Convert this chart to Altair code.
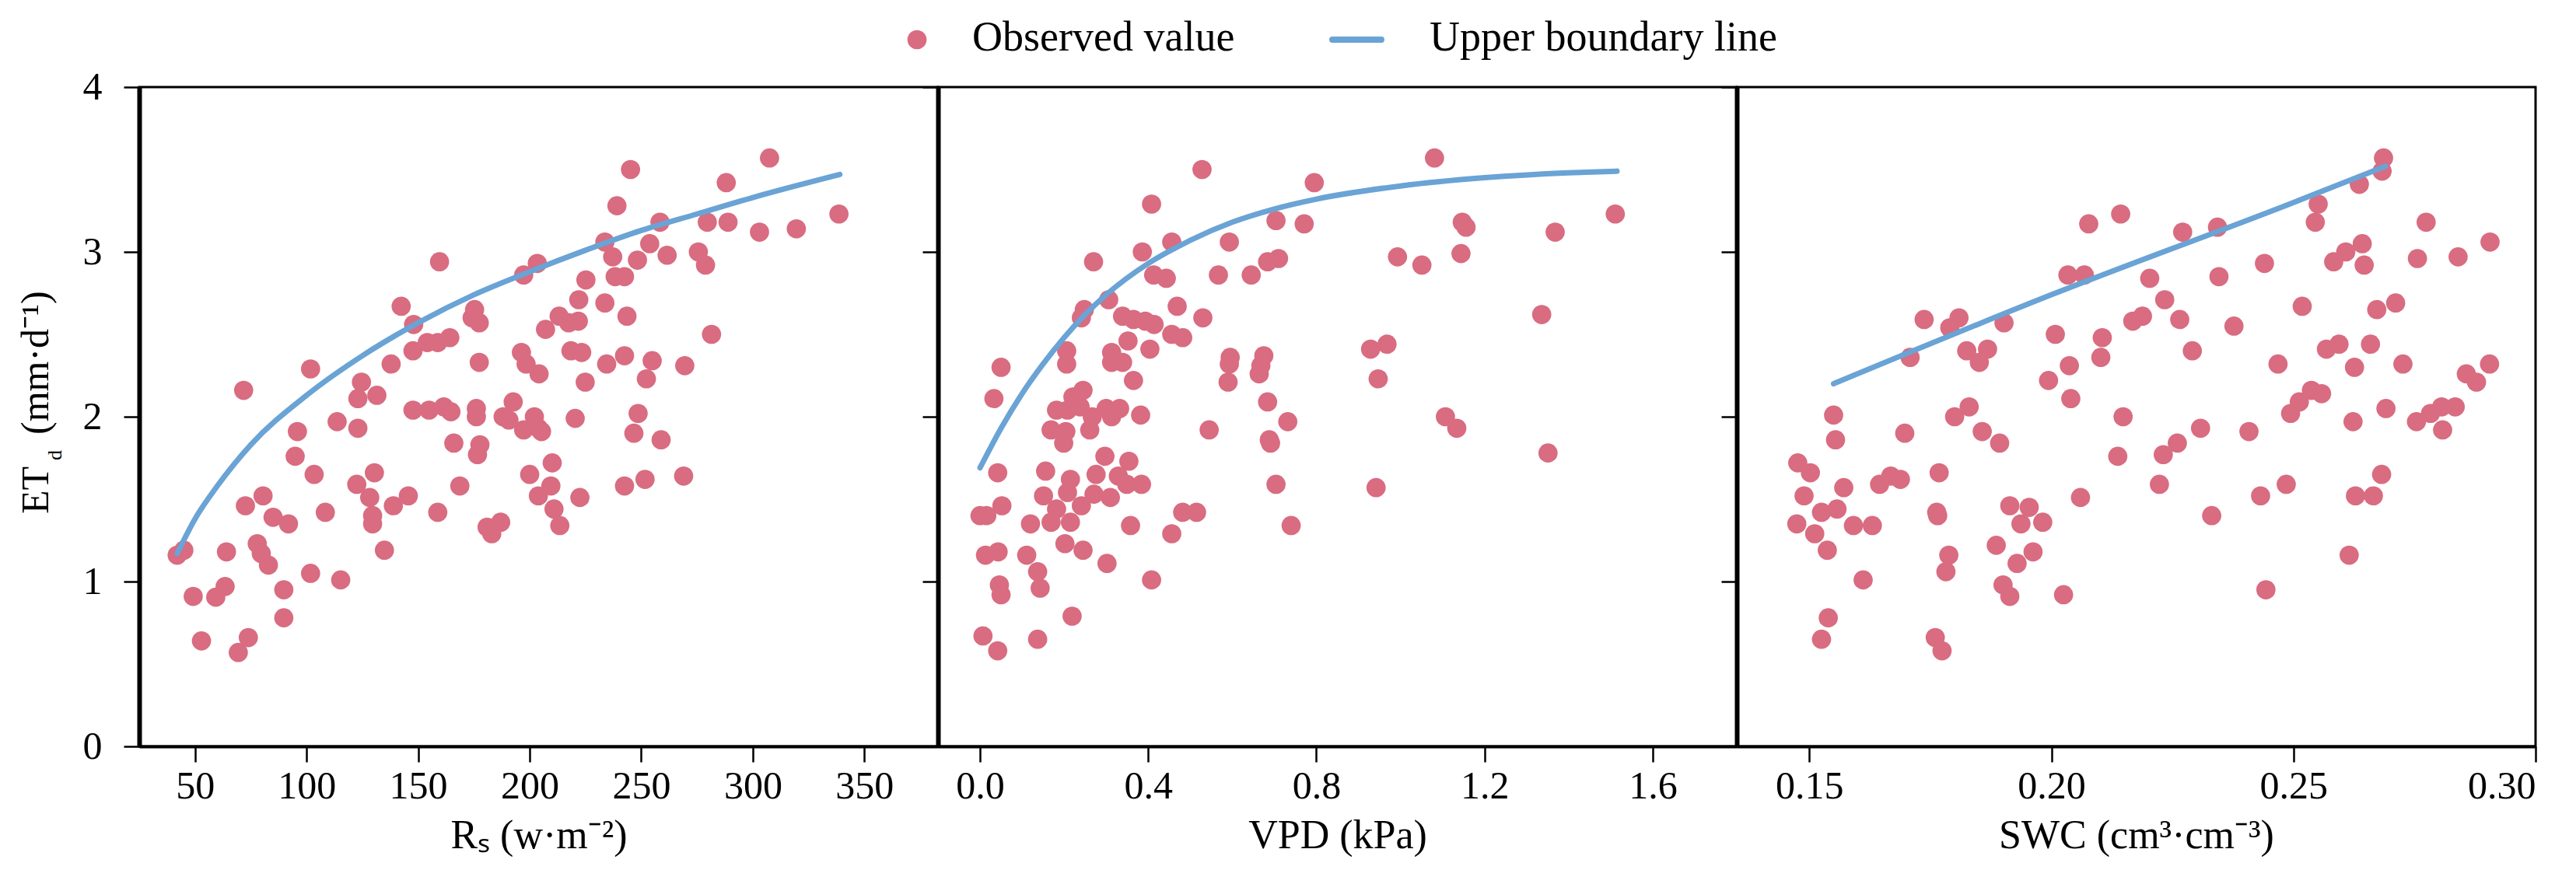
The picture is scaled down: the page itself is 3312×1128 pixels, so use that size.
import altair as alt
import pandas as pd

# ---------------- data ----------------
rs_x = [42, 45, 49.2, 52.9, 59.3, 63.5, 64.1, 69.4, 71.8, 73.9, 72.6, 77.9, 80.5, 79.7, 82.9, 85.0,
        89.8, 89.8, 91.9, 95.9, 94.9, 101.8, 101.8, 103.4, 108.4, 113.7, 115.3, 123.0, 123.0, 124.6,
        122.5, 128.3, 129.6, 129.6, 130.4, 131.5, 134.9, 137.9, 138.9, 142.4, 145.6, 148.0, 147.7,
        147.7, 154.9, 154.1, 158.8, 158.8, 159.6, 161.5, 164.7, 164.2, 166.0, 168.7, 174.2, 175.3,
        177.4, 176.1, 176.1, 177.4, 176.6, 177.7, 180.9, 183.0, 187.0, 188.1, 190.7, 192.6, 196.3,
        197.3, 198.4, 197.3, 200.0, 202.1, 203.4, 203.9, 204.2, 205.3, 203.9, 207.1, 209.5, 210.1,
        210.9, 213.5, 213.2, 217.5, 218.5, 220.4, 221.8, 222.0, 223.3, 225.2, 224.9, 222.5, 233.7,
        233.7, 234.5, 237.2, 238.3, 239.1, 242.5, 242.5, 243.6, 242.5, 245.2, 246.7, 248.6, 248.3,
        252.3, 251.7, 253.8, 254.9, 258.4, 258.9, 261.6, 269.5, 269.0, 275.6, 278.8, 279.6, 281.5,
        288.1, 288.9, 303.0, 307.5, 319.5, 338.6]
rs_y = [1.16, 1.19, 0.91, 0.64, 0.905, 0.97, 1.18, 0.57, 2.16, 0.66, 1.46, 1.23, 1.52, 1.17, 1.10, 1.39,
        0.95, 0.78, 1.35, 1.91, 1.76, 2.29, 1.05, 1.65, 1.42, 1.97, 1.01, 1.93, 2.11, 2.21,
        1.59, 1.51, 1.40, 1.35, 1.66, 2.13, 1.19, 2.32, 1.46, 2.67, 1.52, 2.56, 2.40,
        2.04, 2.04, 2.45, 2.45, 1.42, 2.94, 2.06, 2.03, 2.48, 1.84, 1.58, 2.60, 2.65,
        2.57, 2.05, 2.00, 2.33, 1.77, 1.83, 1.33, 1.29, 1.36, 2.00, 1.98, 2.09, 2.39,
        2.86, 2.32, 1.92, 1.65, 2.00, 2.93, 1.93, 2.26, 1.91, 1.52, 2.53, 1.58, 1.72,
        1.44, 1.34, 2.61, 2.57, 2.40, 1.99, 2.58, 2.71, 2.39, 2.83, 2.21, 1.51, 2.69,
        3.06, 2.32, 2.97, 2.85, 3.28, 2.85, 2.37, 2.61, 1.58, 3.50, 1.90, 2.02, 2.95,
        2.23, 1.62, 3.05, 2.34, 3.18, 1.86, 2.98, 2.31, 1.64, 3.00, 2.92, 3.18, 2.50,
        3.42, 3.18, 3.12, 3.57, 3.14, 3.23]
rs_line_x = [42, 50, 60, 75, 100, 125, 150, 175, 200, 225, 250, 275, 300, 339]
rs_line_y = [1.17, 1.38, 1.58, 1.83, 2.13, 2.37, 2.57, 2.74, 2.88, 3.01, 3.13, 3.23, 3.33, 3.47]

vpd_x = [0.528, 0.408, 0.795, 1.081, 0.704, 0.771, 1.147, 1.156, 1.368, 1.511, 0.456, 0.593, 0.386,
         0.270, 0.710, 0.684, 0.993, 1.051, 1.144, 0.413, 0.443, 0.567, 0.645, 0.306, 0.469, 0.248,
         0.241, 0.339, 0.365, 0.393, 0.414, 0.530, 1.336, 0.456, 0.482, 0.352, 0.206, 0.404, 0.313,
         0.929, 0.968, 0.206, 0.313, 0.339, 0.595, 0.593, 0.675, 0.668, 0.664, 0.050, 0.365, 0.590,
         0.947, 0.033, 0.245, 0.221, 0.182, 0.208, 0.238, 0.300, 0.332, 0.382, 0.267, 0.313, 0.684,
         0.732, 1.107, 1.134, 0.169, 0.204, 0.199, 0.261, 0.545, 0.688, 0.691, 1.351, 0.042, 0.156,
         0.297, 0.354, 0.276, 0.329, 0.349, 0.384, 0.215, 0.704, 0.942, 0.151, 0.208, 0.271, 0.310,
         0.182, 0.241, 0.052, 0.000, 0.016, 0.120, 0.169, 0.215, 0.482, 0.515, 0.358, 0.740, 0.202,
         0.013, 0.043, 0.111, 0.245, 0.302, 0.456, 0.137, 0.046, 0.050, 0.143, 0.408, 0.219, 0.007,
         0.137, 0.042]
vpd_y = [3.50, 3.29, 3.42, 3.57, 3.19, 3.17, 3.18, 3.15, 3.12, 3.23, 3.06, 3.06, 3.00,
         2.94, 2.96, 2.94, 2.97, 2.92, 2.99, 2.86, 2.84, 2.86, 2.86, 2.71, 2.67, 2.65,
         2.60, 2.61, 2.59, 2.58, 2.56, 2.60, 2.62, 2.50, 2.48, 2.46, 2.40, 2.41, 2.39,
         2.41, 2.44, 2.32, 2.33, 2.33, 2.36, 2.32, 2.37, 2.31, 2.26, 2.30, 2.22, 2.21,
         2.23, 2.11, 2.16, 2.12, 2.04, 2.04, 2.06, 2.05, 2.05, 2.01, 2.00, 2.00, 2.09,
         1.97, 2.00, 1.93, 1.92, 1.91, 1.84, 1.92, 1.92, 1.86, 1.84, 1.78, 1.66, 1.67,
         1.76, 1.73, 1.65, 1.64, 1.59, 1.59, 1.62, 1.59, 1.57, 1.52, 1.54, 1.53, 1.51,
         1.44, 1.46, 1.46, 1.40, 1.40, 1.35, 1.36, 1.36, 1.42, 1.42, 1.34, 1.34, 1.23,
         1.16, 1.18, 1.16, 1.19, 1.11, 1.29, 1.06, 0.98, 0.92, 0.96, 1.01, 0.79, 0.67,
         0.65, 0.58]
vpd_line_x = [0.0, 0.05, 0.1, 0.15, 0.2, 0.25, 0.3, 0.4, 0.5, 0.6, 0.7, 0.8, 1.0, 1.2, 1.4, 1.515]
vpd_line_y = [1.69, 1.93, 2.14, 2.32, 2.48, 2.62, 2.74, 2.93, 3.07, 3.18, 3.26, 3.32, 3.40, 3.45, 3.48, 3.49]

swc_x = [0.2686, 0.2683, 0.2636, 0.2551, 0.2545, 0.2143, 0.2077, 0.2271, 0.2343, 0.2774, 0.2906,
         0.2642, 0.2608, 0.2583, 0.2646, 0.2756, 0.2840, 0.2440, 0.2034, 0.2068, 0.2346, 0.2203,
         0.2234, 0.2518, 0.2711, 0.2672, 0.1737, 0.1809, 0.1790, 0.1902, 0.2168, 0.2188, 0.2265,
         0.2377, 0.2008, 0.2105, 0.2568, 0.2594, 0.2659, 0.1825, 0.1868, 0.1851, 0.2291, 0.2102,
         0.1708, 0.2037, 0.2468, 0.2626, 0.2726, 0.2905, 0.2857, 0.2878, 0.1994, 0.2040, 0.2537,
         0.2558, 0.2512, 0.2494, 0.2691, 0.2783, 0.2806, 0.2834, 0.2754, 0.2623, 0.2808, 0.1550,
         0.1554, 0.1800, 0.1830, 0.2148, 0.1697, 0.1857, 0.1893, 0.2308, 0.2408, 0.2260, 0.2231,
         0.2137, 0.1476, 0.1502, 0.1768, 0.1571, 0.1645, 0.1668, 0.1688, 0.2223, 0.2485, 0.2682,
         0.1489, 0.1525, 0.1557, 0.1763, 0.1765, 0.1914, 0.1954, 0.1937, 0.1982, 0.2060, 0.2432,
         0.2628, 0.2665, 0.2331, 0.1474, 0.1511, 0.1591, 0.1630, 0.1537, 0.1788, 0.1782, 0.1886,
         0.1929, 0.1962, 0.2615, 0.1611, 0.1900, 0.1914, 0.2025, 0.2443, 0.1539, 0.1525, 0.1760,
         0.1774]
swc_y = [3.57, 3.49, 3.41, 3.29, 3.18, 3.23, 3.17, 3.12, 3.15, 3.18, 3.06,
         3.05, 3.00, 2.94, 2.92, 2.96, 2.97, 2.93, 2.86, 2.86, 2.85, 2.84,
         2.71, 2.67, 2.69, 2.65, 2.59, 2.60, 2.54, 2.57, 2.58, 2.61, 2.59,
         2.55, 2.50, 2.48, 2.41, 2.44, 2.44, 2.40, 2.41, 2.33, 2.40, 2.36,
         2.36, 2.31, 2.32, 2.30, 2.32, 2.32, 2.26, 2.21, 2.22, 2.11, 2.16,
         2.14, 2.09, 2.02, 2.05, 2.02, 2.06, 2.06, 1.97, 1.97, 1.92, 2.01,
         1.86, 2.00, 2.06, 2.00, 1.90, 1.91, 1.84, 1.93, 1.91, 1.84, 1.77,
         1.76, 1.72, 1.66, 1.66, 1.57, 1.59, 1.64, 1.62, 1.59, 1.59, 1.65,
         1.52, 1.42, 1.44, 1.42, 1.40, 1.46, 1.45, 1.35, 1.36, 1.51, 1.52,
         1.52, 1.52, 1.40, 1.35, 1.29, 1.34, 1.34, 1.19, 1.16, 1.06, 1.22,
         1.11, 1.18, 1.16, 1.01, 0.98, 0.91, 0.92, 0.95, 0.78, 0.65, 0.66,
         0.58]
swc_line_x = [0.155, 0.20, 0.25, 0.269]
swc_line_y = [2.20, 2.74, 3.30, 3.52]

y_ticks = [0, 1, 2, 3, 4]
rs_ticks = [50, 100, 150, 200, 250, 300, 350]
vpd_ticks = [0.0, 0.4, 0.8, 1.2, 1.6]
swc_ticks = [0.15, 0.20, 0.25, 0.30]
legend_labels = ["Observed value", "Upper boundary line"]

# ---------------- styling ----------------
POINT = "#D96C80"
LINE = "#6AA3D5"
FONT = "Liberation Serif"
W, H = 1027, 848


def panel(px, py, lx, ly, domain, ticks, fmt, title, show_y, extra=()):
    pts = pd.DataFrame({"x": px, "y": py})
    ln = pd.DataFrame({"x": lx, "y": ly})
    xenc = alt.X("x:Q", scale=alt.Scale(domain=domain, nice=False, zero=False),
                 axis=alt.Axis(values=ticks, format=fmt, title=title))
    yenc = alt.Y("y:Q", scale=alt.Scale(domain=[0, 4], nice=False),
                 axis=alt.Axis(values=y_ticks, labels=show_y, title=None, format="d"))
    points = alt.Chart(pts).mark_circle(size=610, color=POINT, opacity=1).encode(x=xenc, y=yenc)
    line = alt.Chart(ln).mark_line(color=LINE, strokeWidth=7, strokeCap="round",
                                   interpolate="monotone").encode(x="x:Q", y="y:Q")
    return alt.layer(points, line, *extra).properties(width=W, height=H)


one = pd.DataFrame({"k": [0]})
txt = dict(font=FONT, color="black")
y_main = alt.Chart(one).mark_text(angle=270, align="right", baseline="alphabetic", fontSize=50, **txt).encode(
    x=alt.value(-117), y=alt.value(488), text=alt.value("ET"))
y_sub = alt.Chart(one).mark_text(angle=270, align="left", baseline="alphabetic", fontSize=26, **txt).encode(
    x=alt.value(-100), y=alt.value(480), text=alt.value("d"))
y_unit = alt.Chart(one).mark_text(angle=270, align="left", baseline="alphabetic", fontSize=50, **txt).encode(
    x=alt.value(-117), y=alt.value(447), text=alt.value("(mm·d⁻¹)"))

leg_pt = alt.Chart(one).mark_circle(size=610, color=POINT, opacity=1).encode(
    x=alt.value(1000), y=alt.value(-61))
leg_t1 = alt.Chart(one).mark_text(align="left", baseline="alphabetic", fontSize=54, **txt).encode(
    x=alt.value(1071), y=alt.value(-47), text=alt.value(legend_labels[0]))
leg_ln = alt.Chart(one).mark_rule(color=LINE, strokeWidth=8, strokeCap="round").encode(
    x=alt.value(1534), x2=alt.value(1597), y=alt.value(-61))
leg_t2 = alt.Chart(one).mark_text(align="left", baseline="alphabetic", fontSize=54, **txt).encode(
    x=alt.value(1659), y=alt.value(-47), text=alt.value(legend_labels[1]))

p1 = panel(rs_x, rs_y, rs_line_x, rs_line_y, [25, 383], rs_ticks, "d", "Rₛ (w·m⁻²)", True,
           extra=(y_main, y_sub, y_unit, leg_pt, leg_t1, leg_ln, leg_t2))
p2 = panel(vpd_x, vpd_y, vpd_line_x, vpd_line_y, [-0.1, 1.8], vpd_ticks, ".1f", "VPD (kPa)", False)
p3 = panel(swc_x, swc_y, swc_line_x, swc_line_y, [0.135, 0.30], swc_ticks, ".2f", "SWC (cm³·cm⁻³)", False)

chart = (
    alt.hconcat(p1, p2, p3, spacing=0, bounds="flush")
    .properties(padding={"left": 12, "top": 12, "right": 5, "bottom": 5}, background="white")
    .configure(font=FONT)
    .configure_view(stroke="black", strokeWidth=3)
    .configure_axis(
        labelFont=FONT, labelFontSize=50, labelColor="black",
        titleFont=FONT, titleFontSize=52, titleFontWeight="normal", titleColor="black",
        domainColor="black", tickColor="black", tickWidth=2.5, tickSize=20, grid=False,
    )
    .configure_axisX(domainWidth=4, labelPadding=6, titlePadding=13)
    .configure_axisY(domainWidth=6, labelPadding=28)
)

chart.save("out.html", embed_options={"renderer": "svg", "actions": False})
